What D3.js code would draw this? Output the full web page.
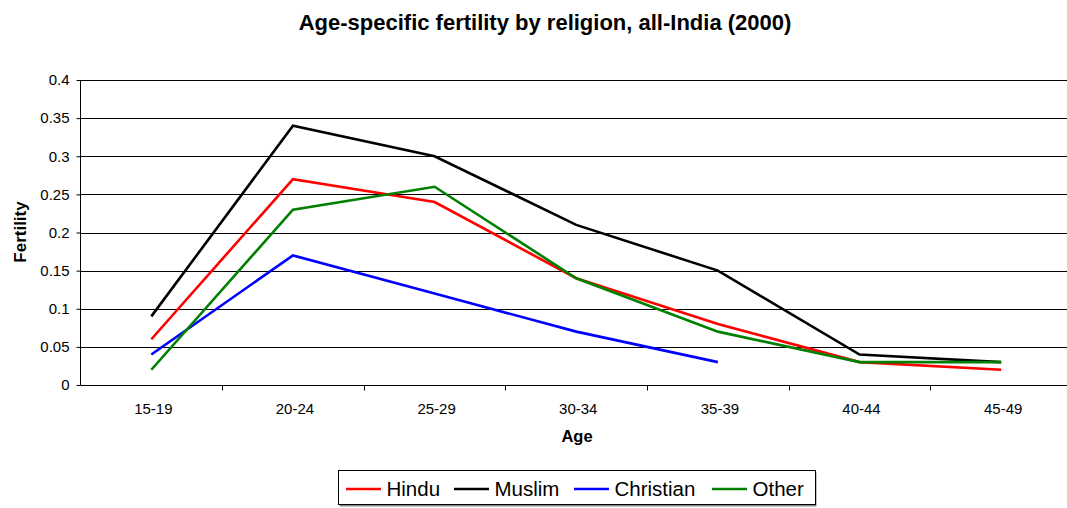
<!DOCTYPE html>
<html>
<head>
<meta charset="utf-8">
<script src="https://cdn.jsdelivr.net/npm/d3@7"></script>
<style>
  html, body { margin: 0; padding: 0; background: #fff; }
  svg { display: block; font-family: "Liberation Sans", Arial, sans-serif; }
</style>
</head>
<body>
<svg id="chart" width="1067" height="508"></svg>
<script>
// Age groups and fertility rates per religion
const ages = ["15-19", "20-24", "25-29", "30-34", "35-39", "40-44", "45-49"];
const hindu = [0.06, 0.27, 0.24, 0.14, 0.08, 0.03, 0.02];
const muslim = [0.09, 0.34, 0.30, 0.21, 0.15, 0.04, 0.03];
const christian = [0.04, 0.17, 0.12, 0.07, 0.03, null, null];
const other = [0.02, 0.23, 0.26, 0.14, 0.07, 0.03, 0.03];
const yTicks = [0, 0.05, 0.1, 0.15, 0.2, 0.25, 0.3, 0.35, 0.4];

const series = [
  { name: "Hindu", values: hindu, color: "#ff0000" },
  { name: "Muslim", values: muslim, color: "#000000" },
  { name: "Christian", values: christian, color: "#0000ff" },
  { name: "Other", values: other, color: "#008000" }
];

const FONT = "Liberation Sans, Arial, sans-serif";
const svg = d3.select("#chart");
const margin = { left: 80.5, top: 80, right: 1072, bottom: 385 };

const x = d3.scaleBand().domain(ages).range([margin.left, margin.right]);
const y = d3.scaleLinear().domain([0, 0.4]).range([margin.bottom, margin.top]);

// Title
svg.append("text")
  .attr("x", 545).attr("y", 30)
  .attr("text-anchor", "middle")
  .attr("font-size", 22).attr("font-weight", "bold")
  .text("Age-specific fertility by religion, all-India (2000)");

// Horizontal gridlines
svg.append("g")
  .selectAll("line")
  .data(yTicks.filter(d => d > 0))
  .join("line")
  .attr("x1", margin.left).attr("x2", margin.right)
  .attr("y1", d => Math.round(y(d)) + 0.5).attr("y2", d => Math.round(y(d)) + 0.5)
  .attr("stroke", "#000").attr("stroke-width", 1);

// Y axis
const yAxis = svg.append("g")
  .attr("transform", `translate(${margin.left},0)`)
  .call(d3.axisLeft(y).tickValues(yTicks).tickFormat(d => String(+d.toFixed(2))).tickSize(4).tickPadding(7));
yAxis.attr("font-family", FONT).attr("font-size", 15);
yAxis.selectAll("text").attr("fill", "#000");
yAxis.selectAll("line, path").attr("stroke", "#000");
yAxis.select(".domain").attr("d", `M0,${margin.top}V${margin.bottom}`);

// X axis: ticks on category boundaries
const xAxisG = svg.append("g").attr("transform", `translate(0,${margin.bottom + 0.5})`);
xAxisG.append("line")
  .attr("x1", margin.left).attr("x2", margin.right)
  .attr("stroke", "#000");
xAxisG.selectAll("line.tick")
  .data(ages.slice(1))
  .join("line")
  .attr("class", "tick")
  .attr("x1", d => Math.round(x(d)) + 0.5).attr("x2", d => Math.round(x(d)) + 0.5)
  .attr("y1", 0).attr("y2", 5)
  .attr("stroke", "#000");
xAxisG.selectAll("text")
  .data(ages)
  .join("text")
  .attr("x", d => x(d) + x.bandwidth() / 2 + 2)
  .attr("y", 28)
  .attr("text-anchor", "middle")
  .attr("font-size", 15)
  .text(d => d);

// Axis titles
svg.append("text")
  .attr("transform", "translate(25.5,232) rotate(-90)")
  .attr("text-anchor", "middle")
  .attr("font-size", 17).attr("font-weight", "bold")
  .text("Fertility");
svg.append("text")
  .attr("x", 577).attr("y", 442)
  .attr("text-anchor", "middle")
  .attr("font-size", 16.5).attr("font-weight", "bold")
  .text("Age");

// Series lines
const line = d3.line()
  .defined(d => d.v != null)
  .x(d => x(d.age) + x.bandwidth() / 2)
  .y(d => y(d.v));

svg.append("g")
  .selectAll("path")
  .data(series)
  .join("path")
  .attr("d", s => line(s.values.map((v, i) => ({ age: ages[i], v }))))
  .attr("fill", "none")
  .attr("stroke", s => s.color)
  .attr("stroke-width", 2.6)
  .attr("stroke-linejoin", "miter");

// Legend
const legend = svg.append("g");
legend.append("rect")
  .attr("x", 339.5).attr("y", 472.5).attr("width", 477).attr("height", 34)
  .attr("fill", "#888");
legend.append("rect")
  .attr("x", 338.5).attr("y", 470.5).attr("width", 477).attr("height", 34)
  .attr("fill", "#fff").attr("stroke", "#000").attr("stroke-width", 1);
const legendX = [346, 454, 574, 712];
series.forEach((s, i) => {
  legend.append("line")
    .attr("x1", legendX[i]).attr("x2", legendX[i] + 35)
    .attr("y1", 489).attr("y2", 489)
    .attr("stroke", s.color).attr("stroke-width", 2.6);
  legend.append("text")
    .attr("x", legendX[i] + 40.5).attr("y", 495.5)
    .attr("font-size", 20.5)
    .text(s.name);
});
</script>
</body>
</html>
